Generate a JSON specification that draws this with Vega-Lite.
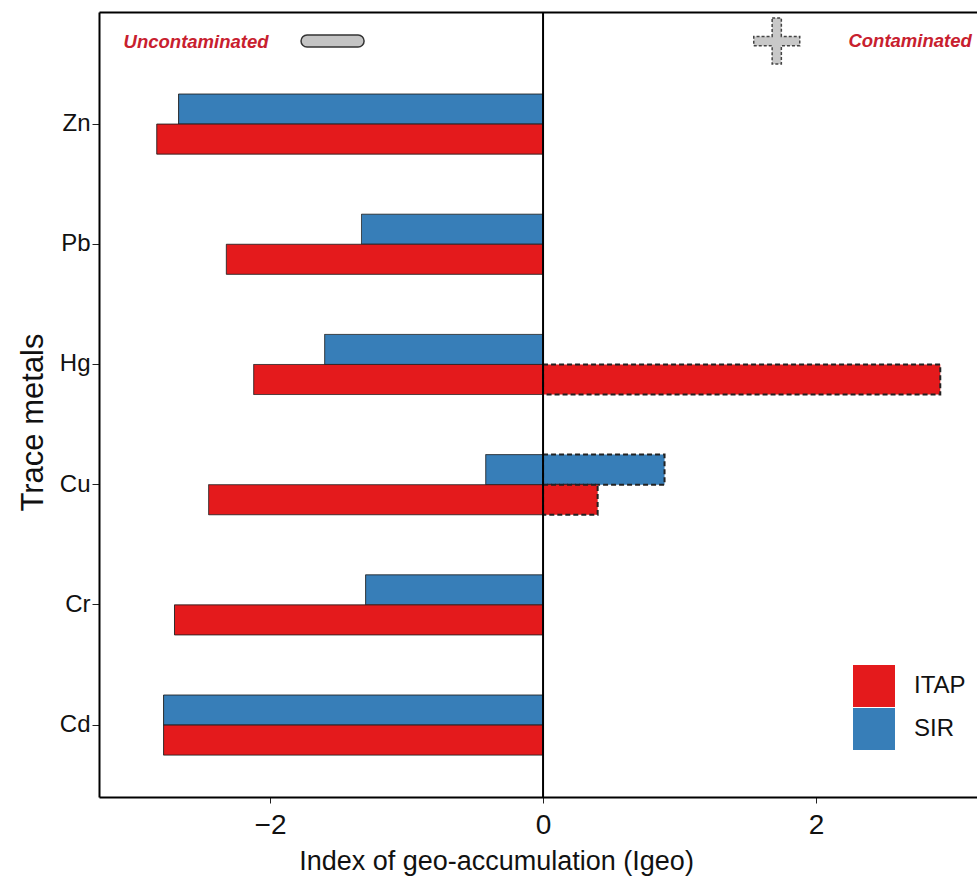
{
  "$schema": "https://vega.github.io/schema/vega-lite/v6.json",
  "autosize": "none",
  "width": 878,
  "height": 785,
  "padding": {"left": 99, "top": 12, "right": 0, "bottom": 79},
  "background": "white",
  "config": {
    "font": "Liberation Sans",
    "view": {"stroke": null},
    "axis": {"grid": false, "labelColor": "#111", "titleColor": "#111", "titleFontWeight": "normal"}
  },
  "resolve": {
    "scale": {"x": "shared", "y": "independent"},
    "axis": {"x": "independent", "y": "independent"}
  },
  "layer": [
    {
      "data": {
        "values": [
          {"metal": "Zn", "site": "SIR", "part": "neg", "igeo": -2.67},
          {"metal": "Zn", "site": "ITAP", "part": "neg", "igeo": -2.83},
          {"metal": "Pb", "site": "SIR", "part": "neg", "igeo": -1.33},
          {"metal": "Pb", "site": "ITAP", "part": "neg", "igeo": -2.32},
          {"metal": "Hg", "site": "SIR", "part": "neg", "igeo": -1.60},
          {"metal": "Hg", "site": "ITAP", "part": "neg", "igeo": -2.12},
          {"metal": "Hg", "site": "ITAP", "part": "pos", "igeo": 2.91},
          {"metal": "Cu", "site": "SIR", "part": "neg", "igeo": -0.42},
          {"metal": "Cu", "site": "SIR", "part": "pos", "igeo": 0.89},
          {"metal": "Cu", "site": "ITAP", "part": "neg", "igeo": -2.45},
          {"metal": "Cu", "site": "ITAP", "part": "pos", "igeo": 0.40},
          {"metal": "Cr", "site": "SIR", "part": "neg", "igeo": -1.30},
          {"metal": "Cr", "site": "ITAP", "part": "neg", "igeo": -2.70},
          {"metal": "Cd", "site": "SIR", "part": "neg", "igeo": -2.78},
          {"metal": "Cd", "site": "ITAP", "part": "neg", "igeo": -2.78}
        ]
      },
      "mark": {"type": "bar", "stroke": "#222"},
      "encoding": {
        "y": {
          "field": "metal",
          "type": "nominal",
          "sort": ["Zn", "Pb", "Hg", "Cu", "Cr", "Cd"],
          "scale": {"paddingInner": 0.5, "paddingOuter": 0.5155, "align": 0.662},
          "axis": {
            "title": "Trace metals",
            "titleFontSize": 31,
            "titleAngle": -90,
            "titleBaseline": "alphabetic",
            "titleX": -57,
            "titleY": 410,
            "labelFontSize": 24,
            "labelPadding": 2,
            "tickSize": 7,
            "tickColor": "#222",
            "domainColor": "black",
            "domainWidth": 2
          }
        },
        "yOffset": {"field": "site", "type": "nominal", "sort": ["SIR", "ITAP"]},
        "x": {
          "field": "igeo",
          "type": "quantitative",
          "stack": null,
          "scale": {"domain": [-3.253, 3.179], "nice": false, "zero": false},
          "axis": {
            "title": "Index of geo-accumulation (Igeo)",
            "titleFontSize": 27,
            "titleBaseline": "alphabetic",
            "titleX": 397,
            "titleY": 72,
            "values": [-2, 0, 2],
            "labelFontSize": 28,
            "labelBaseline": "alphabetic",
            "labelPadding": 30,
            "tickSize": 6,
            "tickColor": "#222",
            "domainColor": "black",
            "domainWidth": 2
          }
        },
        "fill": {
          "field": "site",
          "type": "nominal",
          "scale": {"domain": ["ITAP", "SIR"], "range": ["#E41A1C", "#377EB8"]},
          "legend": {
            "title": null,
            "orient": "none",
            "legendX": 754,
            "legendY": 653,
            "padding": 0,
            "symbolType": "square",
            "symbolSize": 1764,
            "symbolStrokeWidth": 0,
            "symbolOpacity": 1,
            "rowPadding": 1,
            "labelFontSize": 24,
            "labelColor": "#111",
            "labelOffset": 19
          }
        },
        "strokeDash": {
          "field": "part",
          "type": "nominal",
          "scale": {"domain": ["neg", "pos"], "range": [[1, 0], [5, 3]]},
          "legend": null
        },
        "strokeWidth": {
          "field": "part",
          "type": "nominal",
          "scale": {"domain": ["neg", "pos"], "range": [1, 2]},
          "legend": null
        }
      }
    },
    {
      "data": {"values": [{}]},
      "mark": {"type": "rule", "color": "black", "strokeWidth": 2},
      "encoding": {"x": {"datum": 0, "type": "quantitative", "axis": null}}
    },
    {
      "data": {
        "values": [
          {"label": "Uncontaminated", "pos": -2.542, "ypos": 0.9541},
          {"label": "Contaminated", "pos": 2.689, "ypos": 0.9554}
        ]
      },
      "mark": {"type": "text", "font": "Liberation Sans", "fontSize": 18.5, "fontWeight": "bold", "fontStyle": "italic", "color": "#C8202E", "baseline": "alphabetic", "align": "center"},
      "encoding": {
        "text": {"field": "label"},
        "x": {
          "field": "pos",
          "type": "quantitative",
          "axis": {"orient": "top", "labels": false, "ticks": false, "title": null, "domain": true, "domainColor": "black", "domainWidth": 2}
        },
        "y": {"field": "ypos", "type": "quantitative", "scale": {"domain": [0, 1], "nice": false}, "axis": null}
      }
    },
    {
      "data": {"values": [{"side": "minus", "x0": -1.773, "x1": -1.311, "y0": 0.9554, "y1": 0.9707}]},
      "mark": {"type": "bar", "cornerRadius": 6, "fill": "#C4C4C4", "stroke": "#333", "strokeWidth": 1.5},
      "encoding": {
        "x": {"field": "x0", "type": "quantitative", "axis": null},
        "x2": {"field": "x1"},
        "y": {"field": "y0", "type": "quantitative", "scale": {"domain": [0, 1], "nice": false}, "axis": null},
        "y2": {"field": "y1"}
      }
    },
    {
      "data": {"values": [{"side": "plus", "pos": 1.712, "ypos": 0.963}]},
      "mark": {
        "type": "point",
        "filled": true,
        "shape": "M -0.2 -1 L 0.2 -1 L 0.2 -0.2 L 1 -0.2 L 1 0.2 L 0.2 0.2 L 0.2 1 L -0.2 1 L -0.2 0.2 L -1 0.2 L -1 -0.2 L -0.2 -0.2 Z",
        "size": 2116,
        "fill": "#C8C8C8",
        "opacity": 1,
        "stroke": "#444",
        "strokeWidth": 1.5,
        "strokeDash": [3, 2]
      },
      "encoding": {
        "x": {"field": "pos", "type": "quantitative", "axis": null},
        "y": {"field": "ypos", "type": "quantitative", "scale": {"domain": [0, 1], "nice": false}, "axis": null}
      }
    }
  ]
}
